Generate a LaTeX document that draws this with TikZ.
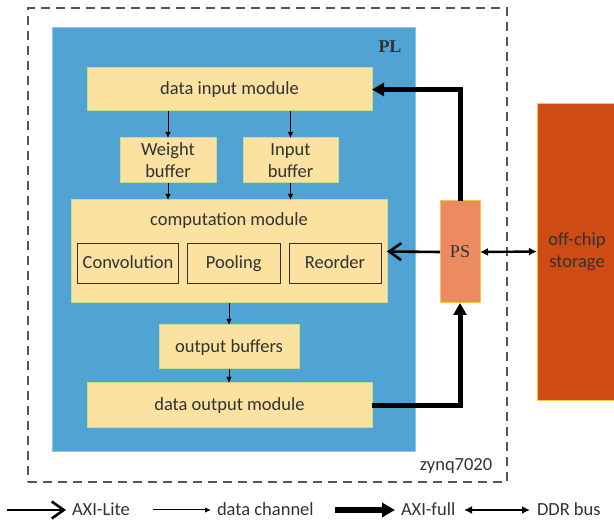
\documentclass[tikz,border=0pt]{standalone}
\usepackage{fontspec}
\setmainfont{Carlito}
\newfontfamily\serifface{Liberation Serif}
\usetikzlibrary{arrows.meta}

\definecolor{plblue}{RGB}{80,163,211}
\definecolor{plborder}{RGB}{125,205,232}
\definecolor{modfill}{RGB}{251,226,160}
\definecolor{modborder}{RGB}{196,222,140}
\definecolor{psfill}{RGB}{236,138,96}
\definecolor{psborder}{RGB}{250,195,70}
\definecolor{offfill}{RGB}{207,75,20}
\definecolor{txt}{RGB}{50,50,50}
\definecolor{dashgray}{RGB}{85,85,85}

\begin{document}
\begin{tikzpicture}[x=1pt,y=-1pt,
  every node/.style={inner sep=0pt, outer sep=0pt, text=txt,
    font=\fontsize{18.5}{22}\selectfont, align=center},
  oneline/.style={text height=13.5pt, text depth=2.5pt},
  chip/.style={draw=dashgray, line width=1.6pt, dash pattern=on 9pt off 6pt},
  plarea/.style={fill=plblue, draw=plborder, line width=1pt},
  module/.style={fill=modfill, draw=modborder, line width=1pt},
  unit/.style={draw=black!80, line width=0.9pt, oneline},
  psbox/.style={fill=psfill, draw=psborder, line width=1pt},
  offbox/.style={fill=offfill, draw=psborder, line width=0.6pt},
  datach/.style={line width=1pt, -{Latex[length=6pt,width=5.5pt]}},
  axilite/.style={line width=2.6pt, -{Straight Barb[length=12pt,width=17pt,line width=2.6pt]}},
  axifull/.style={line width=5pt, line join=miter, -{Triangle[length=12pt,width=13pt]}},
  ddrbus/.style={line width=2.4pt, {Latex[length=8pt,width=8pt]}-{Latex[length=8pt,width=8pt]}},
]
\useasboundingbox (0,0) rectangle (614,521);

% chip outline and programmable logic area
\node[chip, minimum width=479pt, minimum height=474pt] (zynq) at (267.5,245) {};
\node[plarea, minimum width=363pt, minimum height=424pt] (pl) at (233.5,240) {};
\node[font=\serifface\bfseries\fontsize{18}{20}\selectfont] (pllabel) at (390,47) {PL};
\node[oneline] (zynqlabel) at (456,465) {zynq7020};

% modules inside PL
\node[module, oneline, minimum width=285pt, minimum height=43pt] (din) at (229.5,89.5) {data input module};
\node[module, minimum width=96pt, minimum height=45pt] (wbuf) at (168,160.5) {Weight\\buffer};
\node[module, minimum width=95pt, minimum height=45pt] (ibuf) at (290.5,160.5) {Input\\buffer};
\node[module, minimum width=316pt, minimum height=103pt] (comp) at (229,251.5) {};
\node[oneline] (complabel) at (229,220) {computation module};
\node[unit, minimum width=101pt, minimum height=40pt] (conv) at (128,263) {Convolution};
\node[unit, minimum width=92.5pt, minimum height=40pt] (pool) at (233.75,263) {Pooling};
\node[unit, minimum width=92pt, minimum height=40pt] (reord) at (335,263) {Reorder};
\node[module, oneline, minimum width=140pt, minimum height=44pt] (obuf) at (229,347) {output buffers};
\node[module, oneline, minimum width=285pt, minimum height=45pt] (dout) at (229.5,405.5) {data output module};

% processing system and external memory
\node[psbox, minimum width=40pt, minimum height=102pt, font=\serifface\fontsize{18}{20}\selectfont] (ps) at (460,252) {PS};
\node[offbox, minimum width=80pt, minimum height=297pt] (off) at (577,251.5) {off-chip\\storage};

% data channels
\draw[datach] (din.south -| wbuf.north) -- (wbuf.north);
\draw[datach] (din.south -| ibuf.north) -- (ibuf.north);
\draw[datach] (wbuf.south) -- (comp.north -| wbuf.south);
\draw[datach] (ibuf.south) -- (comp.north -| ibuf.south);
\draw[datach] (comp.south -| obuf.north) -- (obuf.north);
\draw[datach] (obuf.south) -- (dout.north -| obuf.south);

% buses to and from PS
\draw[axifull] (ps.north) |- (din.east);
\draw[axifull] (dout.east) -| (ps.south);
\draw[axilite] (ps.west) -- (comp.east);
\draw[ddrbus] (ps.east) -- (off.west);

% legend
\coordinate (l1a) at (7,510);   \coordinate (l1b) at (66,510);
\coordinate (l2a) at (153,510); \coordinate (l2b) at (211,510);
\coordinate (l3a) at (335,510); \coordinate (l3b) at (395,510);
\coordinate (l4a) at (464,510); \coordinate (l4b) at (530,510);
\draw[axilite] (l1a) -- (l1b);
\draw[datach] (l2a) -- (l2b);
\draw[axifull, line width=6.5pt, -{Triangle[length=13pt,width=14pt]}] (l3a) -- (l3b);
\draw[ddrbus] (l4a) -- (l4b);
\node[anchor=west, oneline] (t1) at (72,510) {AXI-Lite};
\node[anchor=west, oneline] (t2) at (217,510) {data channel};
\node[anchor=west, oneline] (t3) at (401,510) {AXI-full};
\node[anchor=west, oneline] (t4) at (537,510) {DDR bus};
\end{tikzpicture}
\end{document}
